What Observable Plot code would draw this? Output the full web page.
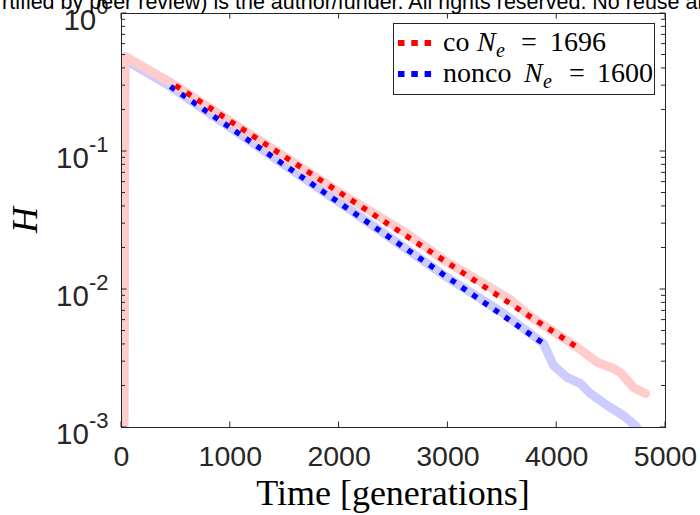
<!DOCTYPE html>
<html><head><meta charset="utf-8">
<script src="https://cdn.jsdelivr.net/npm/d3@7"></script>
<script src="https://cdn.jsdelivr.net/npm/@observablehq/plot@0.6"></script>
<style>
html,body{margin:0;padding:0;background:#fff;}
body{width:700px;height:515px;overflow:hidden;position:relative;font-family:"Liberation Sans",Arial,sans-serif;}
#chart{position:absolute;left:0;top:0;}
#hdr{position:absolute;left:2px;top:-10px;white-space:nowrap;font-family:"Liberation Sans",Arial,sans-serif;font-size:21.5px;color:#000;z-index:3;}
#legend{position:absolute;left:393px;top:23px;z-index:2;}
</style></head><body>
<div id="chart"></div>
<div id="hdr">rtified by peer review) is the author/funder. All rights reserved. No reuse allowed without permission.</div>
<svg id="legend" width="263" height="73"></svg>
<script>
// ---- data ----
const tCo   = [20, 30, 35, 496, 1186, 2004, 2600, 2996, 3392, 3560, 3759, 4191, 4375, 4522, 4586, 4706, 4816];
const hCo   = [0.0005, 0.40, 0.488, 0.301, 0.133, 0.0504, 0.0262, 0.0157, 0.0103, 0.0086, 0.00637, 0.0038, 0.00296, 0.00268, 0.00250, 0.00195, 0.00176];
const tNon  = [20, 32, 40, 450, 1213, 2004, 2996, 3500, 3879, 3971, 4099, 4219, 4311, 4467, 4614, 4724, 4780];
const hNon  = [0.0005, 0.38, 0.457, 0.296, 0.114, 0.0427, 0.0122, 0.0068, 0.00406, 0.00281, 0.00230, 0.00208, 0.00176, 0.00144, 0.00122, 0.00103, 0.00090];
const tCoFit  = [496, 4191];
const hCoFit  = [0.301, 0.0038];
const tNonFit = [450, 3879];
const hNonFit = [0.296, 0.00406];
const xTicks = [0, 1000, 2000, 3000, 4000, 5000];
const yTicks = [0.001, 0.01, 0.1, 1];
const yExp   = ["-3", "-2", "-1", "0"];
const legendNames = ["co", "nonco"];
const legendNe    = ["1696", "1600"];
const legendColors = ["#ff0000", "#0000ff"];

const co     = tCo.map((t, i) => ({t, h: hCo[i]}));
const nonco  = tNon.map((t, i) => ({t, h: hNon[i]}));
const coFit  = tCoFit.map((t, i) => ({t, h: hCoFit[i]}));
const nonFit = tNonFit.map((t, i) => ({t, h: hNonFit[i]}));

const AX = "#262626";
const chart = Plot.plot({
  width: 700, height: 515,
  marginLeft: 121, marginRight: 35, marginTop: 13, marginBottom: 88,
  style: {fontFamily: '"Liberation Sans", Arial, sans-serif', color: AX, background: "white", overflow: "visible"},
  x: {domain: [0, 5000]},
  y: {type: "log", domain: [1e-3, 1]},
  marks: [
    Plot.line(nonco, {x: "t", y: "h", stroke: "#ccccff", strokeWidth: 9, strokeLinejoin: "round", strokeLinecap: "round", clip: true}),
    Plot.line(co, {x: "t", y: "h", stroke: "#ffcccc", strokeWidth: 9, strokeLinejoin: "round", strokeLinecap: "round", clip: true}),
    Plot.line(nonFit, {x: "t", y: "h", stroke: legendColors[1], strokeWidth: 5.5, strokeDasharray: "5.5,7.6", strokeLinecap: "butt"}),
    Plot.line(coFit, {x: "t", y: "h", stroke: legendColors[0], strokeWidth: 5.5, strokeDasharray: "5.5,7.6", strokeLinecap: "butt"}),
    Plot.frame({stroke: AX, strokeWidth: 1}),
    Plot.axisX({ticks: xTicks, tickSize: 0, tickPadding: 18, fontSize: 28.5, label: null, tickFormat: d => String(d)}),
    Plot.axisY({ticks: yTicks, tickSize: 0, tickPadding: 13, fontSize: 29.5, label: null, dy: 7, tickFormat: () => "10"})
  ]
});
document.getElementById("chart").appendChild(chart);

const svg = d3.select(chart);
const xs = chart.scale("x"), ys = chart.scale("y");
const [xL, xR] = xs.range, [yB, yT] = ys.range;

// superscripts for the log tick labels
svg.selectAll('g[aria-label="y-axis tick label"] text').each(function(d, i) {
  d3.select(this).append("tspan").attr("font-size", 22).attr("dy", -16).text(yExp[i]);
});

// inward ticks (MATLAB box style)
const tg = svg.append("g").attr("stroke", AX).attr("stroke-width", 1).attr("fill", "none");
const MAJ = 5.5, MIN = 4;
xTicks.forEach(v => {
  const x = xs.apply(v);
  tg.append("line").attr("x1", x).attr("x2", x).attr("y1", yB).attr("y2", yB - MAJ);
  tg.append("line").attr("x1", x).attr("x2", x).attr("y1", yT).attr("y2", yT + MAJ);
});
const minor = d3.scaleLog().domain(ys.domain).ticks();
minor.forEach(v => {
  const y = ys.apply(v);
  const major = yTicks.some(t => Math.abs(t - v) / t < 1e-9);
  const L = major ? MAJ : MIN;
  tg.append("line").attr("x1", xL).attr("x2", xL + L).attr("y1", y).attr("y2", y);
  tg.append("line").attr("x1", xR).attr("x2", xR - L).attr("y1", y).attr("y2", y);
});

// axis labels
svg.append("text").attr("x", (xL + xR) / 2).attr("y", 505).attr("text-anchor", "middle")
  .attr("font-family", '"Liberation Serif", serif').attr("font-size", 36).attr("fill", "#000")
  .text("Time [generations]");
svg.append("text").attr("transform", `translate(37,${(yB + yT) / 2}) rotate(-90)`).attr("text-anchor", "middle")
  .attr("font-family", '"Liberation Serif", serif').attr("font-style", "italic").attr("font-size", 36).attr("fill", "#000")
  .text("H");

// legend
const lg = d3.select("#legend");
lg.append("rect").attr("x", 0.5).attr("y", 0.5).attr("width", 261).attr("height", 71).attr("fill", "white").attr("stroke", AX);
const rowY = [20, 51];
const pos = [
  {name: 443, N: 477, e: 496, eq: 521, num: 550},
  {name: 443, N: 524, e: 543, eq: 569, num: 597}
];
legendNames.forEach((nm, i) => {
  const y = rowY[i];
  lg.append("line").attr("x1", 5).attr("x2", 40).attr("y1", y).attr("y2", y)
    .attr("stroke", legendColors[i]).attr("stroke-width", 6).attr("stroke-dasharray", "6.5,6.8");
  const p = pos[i];
  const base = y + 8;
  const tx = (x, txt, extra = {}) => {
    const t = lg.append("text").attr("x", x - 393).attr("y", base).attr("font-family", '"Liberation Serif", serif')
      .attr("font-size", 28).attr("fill", "#000").text(txt);
    Object.entries(extra).forEach(([k, v]) => t.attr(k, v));
    return t;
  };
  tx(p.name, nm);
  tx(p.N, "N", {"font-style": "italic"});
  lg.append("text").attr("x", p.e - 393).attr("y", base + 6).attr("font-family", '"Liberation Serif", serif')
    .attr("font-size", 20).attr("font-style", "italic").attr("fill", "#000").text("e");
  tx(p.eq, "=");
  tx(p.num, legendNe[i]);
});
</script>
</body></html>
